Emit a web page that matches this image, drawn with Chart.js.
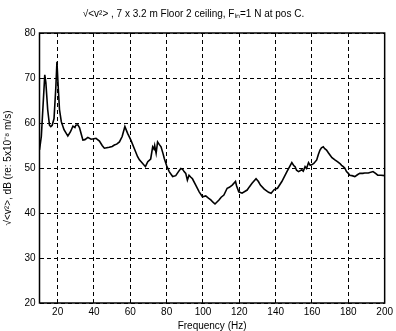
<!DOCTYPE html>
<html>
<head>
<meta charset="utf-8">
<script src="https://cdn.jsdelivr.net/npm/chart.js@4"></script>
<style>
html,body{margin:0;padding:0;background:#fff;}
#wrap{width:396px;height:331px;}
</style>
</head>
<body>
<div id="wrap"><canvas id="c" width="396" height="331"></canvas></div>
<script>
const titleText = "√<v²> , 7 x 3.2 m Floor 2 ceiling, Fᵢₙ=1 N at pos C.";
const xLabel = "Frequency (Hz)";
const yLabel = "√<v²>, dB (re: 5x10⁻⁸ m/s)";
const xTicks = [20, 40, 60, 80, 100, 120, 140, 160, 180, 200];
const yTicks = [20, 30, 40, 50, 60, 70, 80];

const freq = [10, 11, 12.9, 13.5, 14.5, 15.5, 16.2, 17, 18, 19, 19.6, 20.3, 21, 22, 23.5, 25.6, 27, 28.4, 29.5, 30, 31.1, 32, 33, 33.9, 35, 36.6, 38.4, 40, 41.1, 43, 44.5, 45.7, 47, 48.4, 50, 51.2, 52.5, 54, 55.5, 57, 58.5, 60.3, 62, 64, 65, 66.8, 68.3, 69.6, 71.2, 72.3, 73, 73.4, 74.2, 75, 76, 76.9, 78, 78.7, 80, 81.4, 83.3, 85, 86.5, 87.8, 88.8, 89.6, 90.5, 91.4, 92.3, 93.2, 94.2, 96, 97.9, 99.7, 101.5, 103, 104.3, 105.5, 106.6, 108.8, 110, 111.5, 113.3, 114.5, 116.1, 117.9, 118.5, 119.7, 121.5, 124.3, 125.5, 127, 129.2, 130.5, 131.6, 133.7, 136.1, 137.5, 139.2, 141, 143.4, 146.2, 148.9, 150, 150.7, 151.5, 152.6, 154.4, 155.2, 156.2, 157, 158.1, 159, 159.8, 161, 162.6, 163.5, 164.4, 165.2, 166.2, 167, 168, 169, 169.9, 171, 172.6, 174, 175.4, 176.3, 177.2, 178, 179, 180, 180.8, 182, 183.6, 185, 186.3, 188, 189, 191, 193.6, 195, 196.2, 198, 200];
const level = [54, 57, 70.7, 69, 63, 59.5, 59.2, 59.5, 61, 68, 73.6, 68, 63, 60.3, 58.5, 57.1, 58, 59.3, 59, 59.5, 59.6, 59, 57.5, 56.2, 56.3, 56.8, 56.4, 56.5, 56.6, 56, 55, 54.4, 54.5, 54.6, 54.8, 55.1, 55.3, 55.8, 57, 59.2, 57.7, 56.2, 54.5, 52.5, 51.8, 51, 50.3, 51.4, 52, 54.7, 54.2, 55, 53.3, 55.8, 55.2, 54.7, 53.2, 52.1, 50.5, 49.2, 48.1, 48.3, 49.2, 49.9, 49.7, 49.2, 48.8, 47.3, 48.4, 48, 47.6, 46.2, 44.7, 43.6, 43.8, 43.3, 42.9, 42.4, 42, 42.9, 43.5, 44, 45.5, 45.7, 46.2, 47, 46, 44.7, 44.4, 45.1, 45.8, 46.6, 47.6, 47, 46.2, 45.3, 44.6, 44.4, 45.2, 45.5, 47, 49.2, 51.2, 50.5, 50.3, 49.5, 49.2, 49.6, 49.3, 50.3, 49.9, 51.2, 50.6, 50.7, 51, 51.8, 53, 54, 54.5, 54.7, 54.3, 54, 53.4, 52.9, 52.3, 51.8, 51.4, 51, 50.6, 50.3, 50, 49.2, 48.8, 48.4, 48.3, 48.1, 48.5, 48.8, 48.8, 48.9, 48.9, 49.2, 48.8, 48.4, 48.4, 48.3];

const FONT = "'Liberation Sans', Arial, sans-serif";
const points = freq.map((f, i) => ({x: f, y: level[i]}));

const borderPlugin = {
  id: 'frame',
  afterDatasetsDraw(chart) {
    const {ctx, chartArea: a} = chart;
    ctx.save();
    ctx.strokeStyle = '#000';
    ctx.lineWidth = 1.5;
    ctx.setLineDash([]);
    ctx.strokeRect(a.left, a.top, a.right - a.left, a.bottom - a.top);
    ctx.restore();
  }
};

const gridOpts = {color: '#000', lineWidth: 1, drawTicks: false, borderDash: [4, 3]};
const borderOpts = {display: false, dash: [4, 3]};

new Chart(document.getElementById('c'), {
  type: 'line',
  data: {
    datasets: [{
      data: points,
      borderColor: '#000',
      borderWidth: 1.6,
      pointRadius: 0,
      tension: 0,
      fill: false
    }]
  },
  options: {
    responsive: false,
    animation: false,
    layout: {padding: {left: 0, right: 9, top: 0, bottom: 0}},
    plugins: {
      legend: {display: false},
      tooltip: {enabled: false},
      title: {
        display: true,
        text: titleText,
        color: '#000',
        font: {family: FONT, size: 10, weight: 'normal'},
        padding: {top: 8, bottom: 13}
      }
    },
    scales: {
      x: {
        type: 'linear',
        min: 10, max: 200,
        afterBuildTicks: s => { s.ticks = xTicks.map(v => ({value: v})); },
        afterFit: s => { s.height = 28; },
        grid: gridOpts,
        border: borderOpts,
        ticks: {color: '#000', font: {family: FONT, size: 10}, padding: 3, maxRotation: 0, autoSkip: false},
        title: {display: true, text: xLabel, color: '#000', font: {family: FONT, size: 10, lineHeight: 1.0}, padding: {top: 0, bottom: 0}}
      },
      y: {
        type: 'linear',
        min: 20, max: 80,
        afterBuildTicks: s => { s.ticks = yTicks.map(v => ({value: v})); },
        afterFit: s => { s.width = 39.5; },
        grid: gridOpts,
        border: borderOpts,
        ticks: {color: '#000', font: {family: FONT, size: 10}, padding: 4},
        title: {display: true, text: yLabel, color: '#000', font: {family: FONT, size: 10}, padding: {top: 2, bottom: 0}}
      }
    }
  },
  plugins: [borderPlugin]
});
</script>
</body>
</html>
